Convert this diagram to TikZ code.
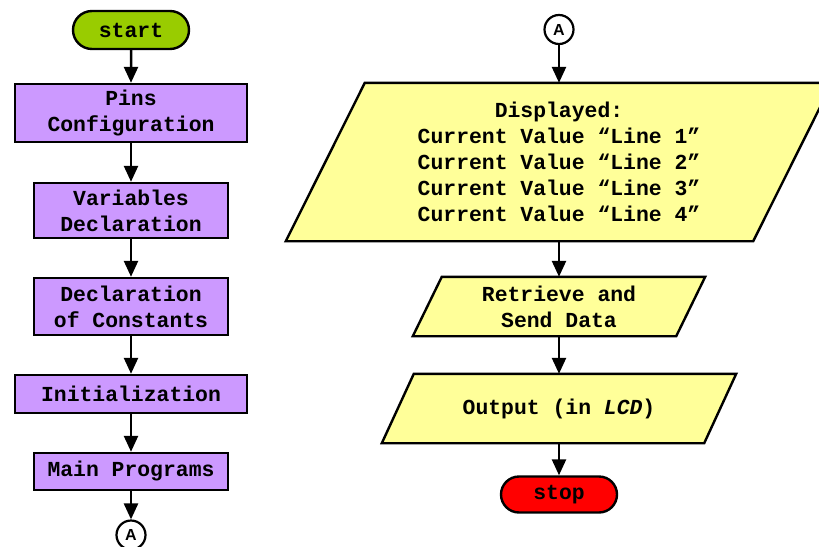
\documentclass[tikz,border=0pt]{standalone}
\usepackage{fontspec}
\setmainfont{Liberation Mono}
\newfontfamily\sansA{Liberation Sans}
\usetikzlibrary{arrows.meta,backgrounds,calc,shapes.misc}
\definecolor{cgreen}{HTML}{99CC00}
\definecolor{cpurple}{HTML}{CC99FF}
\definecolor{cyellow}{HTML}{FFFF99}
\definecolor{cred}{HTML}{FF0000}
\tikzset{
  txt/.style={font=\fontsize{21.4}{26}\selectfont\bfseries, align=center, inner sep=0pt},
  procbox/.style={txt, rectangle, draw=black, line width=2.4pt, fill=cpurple},
  termbox/.style={txt, rounded rectangle, draw=black, line width=2.4pt},
  iobox/.style={txt, rectangle},
  iofill/.style={draw=black, line width=2.4pt, fill=cyellow, line join=miter},
  connA/.style={circle, draw=black, line width=2.2pt, fill=white, minimum size=29pt, inner sep=0pt, font=\sansA\bfseries\fontsize{16}{16}\selectfont},
  arr/.style={line width=2.5pt, -{Triangle[length=16pt,width=14pt]}}
}
\begin{document}
\begin{tikzpicture}[x=1pt,y=-1pt]
\clip (0,0) rectangle (819,546);
% left column
\node[termbox, fill=cgreen, minimum width=116pt, minimum height=38pt] (start) at (131,30) {start};
\node[procbox, minimum width=232pt, minimum height=58pt] (pins) at (131,113) {Pins\\Configuration};
\node[procbox, minimum width=194pt, minimum height=55pt] (vars) at (131,210.5) {Variables\\Declaration};
\node[procbox, minimum width=194pt, minimum height=57pt] (consts) at (131,306.5) {Declaration\\of Constants};
\node[procbox, minimum width=232pt, minimum height=38pt] (init) at (131,394) {Initialization};
\node[procbox, minimum width=194pt, minimum height=37pt] (mainp) at (131,471.5) {Main Programs};
\node[connA] (A1) at (131,535) {A};
% right column
\node[connA] (A2) at (559,29.5) {A};
\node[iobox, minimum width=467pt, minimum height=158pt] (disp) at (559,162) {Displayed:\\Current Value “Line 1”\\Current Value “Line 2”\\Current Value “Line 3”\\Current Value “Line 4”};
\node[iobox, minimum width=263pt, minimum height=59pt] (retr) at (559,306.5) {Retrieve and\\Send Data};
\node[iobox, minimum width=322pt, minimum height=69pt] (outp) at (559,408.5) {Output (in \textit{LCD})};
\node[termbox, fill=cred, minimum width=116pt, minimum height=36pt] (stop) at (559,494.5) {stop};
\begin{scope}[on background layer]
\fill[white] (0,0) rectangle (819,546);
\foreach \n/\s in {disp/79, retr/29, outp/32}
  \draw[iofill] ($(\n.south west)+(-\s/2,0)$) -- ($(\n.south east)+(-\s/2,0)$)
     -- ($(\n.north east)+(\s/2,0)$) -- ($(\n.north west)+(\s/2,0)$) -- cycle;
\end{scope}
% connectors
\draw[arr] (start) -- (pins);
\draw[arr] (pins) -- (vars);
\draw[arr] (vars) -- (consts);
\draw[arr] (consts) -- (init);
\draw[arr] (init) -- (mainp);
\draw[arr] (mainp) -- (A1);
\draw[arr] (A2) -- (disp);
\draw[arr] (disp) -- (retr);
\draw[arr] (retr) -- (outp);
\draw[arr] (outp) -- (stop);
\end{tikzpicture}
\end{document}
